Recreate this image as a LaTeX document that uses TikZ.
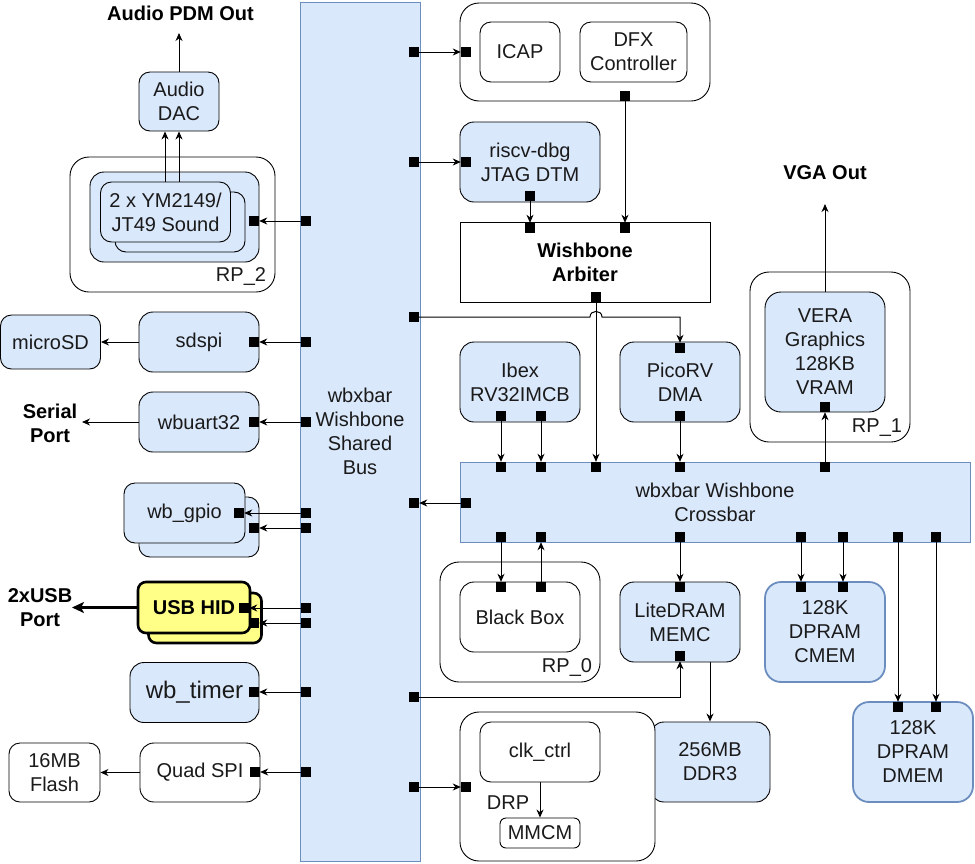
\documentclass[tikz,border=0pt]{standalone}
\usepackage{fontspec}
\setmainfont{Liberation Sans}
\usetikzlibrary{arrows.meta,calc}
\definecolor{bfill}{HTML}{DAE8FC}
\definecolor{bline}{HTML}{6C8EBF}
\definecolor{yfill}{HTML}{FFFF88}
\definecolor{txt}{HTML}{1A1A1A}
\begin{document}
\begin{tikzpicture}[x=1pt,y=-1pt,
  font=\fontsize{20}{24}\selectfont,
  base/.style={draw=black, line width=0.9pt, rounded corners=11pt, align=center, text=txt, inner sep=0pt},
  wbox/.style={base, fill=white},
  bbox/.style={base, fill=bfill},
  mbox/.style={base, fill=bfill, draw=bline, line width=1.8pt, rounded corners=16pt},
  ybox/.style={base, fill=yfill, line width=2.6pt, rounded corners=8pt, text=black, font=\fontsize{20}{24}\selectfont\bfseries},
  cont/.style={draw=black, line width=0.9pt, rounded corners=19pt, fill=white, inner sep=0pt},
  port/.style={fill=black, draw=none, minimum size=10pt, inner sep=0pt},
  arr/.style={-{Stealth[length=8pt,width=7pt,inset=2.5pt]}, line width=1pt},
  lbl/.style={font=\fontsize{20}{24}\selectfont\bfseries, align=center, text=black},
  rp/.style={text=txt, inner sep=0pt}]
\useasboundingbox (0,0) rectangle (975,863);

% shared bus
\node[draw=bline, fill=bfill, line width=0.9pt, minimum width=120pt, minimum height=859pt, align=center, text=txt, inner sep=0pt] (bus) at (360,431.5) {wbxbar\\Wishbone\\Shared\\Bus};

% ---------- right side ----------
\node[cont, minimum width=250pt, minimum height=98pt] (dfxc) at (585,52) {};
\node[wbox, minimum width=80pt, minimum height=60pt] (icap) at (520,52) {ICAP};
\node[wbox, minimum width=107pt, minimum height=60pt] (dfx) at (633.5,52) {DFX\\Controller};

\node[bbox, minimum width=140pt, minimum height=80pt, rounded corners=14pt] (rv) at (530,162) {riscv-dbg\\JTAG DTM};
\node[draw=black, line width=0.9pt, fill=white, minimum width=250pt, minimum height=80pt, align=center, inner sep=0pt, font=\fontsize{20}{24}\selectfont\bfseries] (arb) at (585,262) {Wishbone\\Arbiter};

\node[bbox, minimum width=120pt, minimum height=80pt, rounded corners=14pt] (ibex) at (520,382) {Ibex\\RV32IMCB};
\node[bbox, minimum width=120pt, minimum height=80pt, rounded corners=14pt] (pico) at (680,382) {PicoRV\\DMA};

\node[cont, minimum width=160pt, minimum height=170pt] (rp1) at (830,357) {};
\node[bbox, minimum width=120pt, minimum height=120pt, rounded corners=16pt] (vera) at (825,352) {VERA\\Graphics\\128KB\\VRAM};
\node[rp] (rp1l) at (877,428) {RP\_1};

\node[draw=bline, fill=bfill, line width=0.9pt, minimum width=510pt, minimum height=80pt, align=center, text=txt, inner sep=0pt] (xbar) at (715,502) {wbxbar Wishbone\\Crossbar};

\node[cont, minimum width=160pt, minimum height=120pt] (rp0) at (520,622) {};
\node[wbox, minimum width=120pt, minimum height=70pt, rounded corners=14pt] (bb) at (520,617) {Black Box};
\node[rp] (rp0l) at (567,667) {RP\_0};

\node[bbox, minimum width=120pt, minimum height=80pt, rounded corners=14pt] (ld) at (680,622) {LiteDRAM\\MEMC};
\node[bbox, minimum width=120pt, minimum height=80pt, rounded corners=14pt] (ddr) at (710,762) {256MB\\DDR3};
\node[mbox, minimum width=120pt, minimum height=100pt] (cmem) at (825,632) {128K\\DPRAM\\CMEM};
\node[mbox, minimum width=120pt, minimum height=100pt] (dmem) at (913,752) {128K\\DPRAM\\DMEM};

\node[cont, minimum width=195pt, minimum height=149pt] (clkc) at (557.5,786.5) {};
\node[wbox, minimum width=120pt, minimum height=60pt] (clk) at (540,752) {clk\_ctrl};
\node[wbox, minimum width=80pt, minimum height=30pt, rounded corners=6pt] (mmcm) at (540,833) {MMCM};
\node[rp] (drp) at (508,803) {DRP};

% ---------- left side ----------
\node[bbox, minimum width=80pt, minimum height=59pt] (dac) at (179,101.5) {Audio\\DAC};
\node[cont, minimum width=205pt, minimum height=135pt] (rp2) at (172.5,224.5) {};
\node[bbox, minimum width=169pt, minimum height=90pt, rounded corners=14pt] (sndc) at (174.5,217) {};
\node[bbox, minimum width=130pt, minimum height=60pt] (snd2) at (180,222) {};
\node[bbox, minimum width=130pt, minimum height=60pt] (snd1) at (165.5,212) {2 x YM2149/\\JT49 Sound};
\node[rp] (rp2l) at (241,276) {RP\_2};

\node[bbox, minimum width=100pt, minimum height=54pt] (sd) at (50.5,342) {microSD};
\node[bbox, minimum width=120pt, minimum height=60pt, rounded corners=14pt] (sdspi) at (199,342) {sdspi};
\node[bbox, minimum width=120pt, minimum height=60pt, rounded corners=14pt] (uart) at (199,422) {wbuart32};
\node[bbox, minimum width=120pt, minimum height=60pt] (gpio2) at (199,527) {};
\node[bbox, minimum width=121pt, minimum height=60pt] (gpio1) at (184.5,513) {wb\_gpio};
\node[ybox, minimum width=113pt, minimum height=50pt] (usb2) at (205,618) {};
\node[ybox, minimum width=112pt, minimum height=51pt] (usb1) at (194,607.5) {USB HID};
\node[bbox, minimum width=129pt, minimum height=60pt, rounded corners=14pt, font=\fontsize{24}{28}\selectfont] (timer) at (194.5,692.5) {wb\_timer};
\node[wbox, minimum width=120pt, minimum height=59pt, rounded corners=14pt] (qspi) at (200,772.5) {Quad SPI};
\node[wbox, minimum width=91pt, minimum height=59pt] (flash) at (54.5,772.5) {16MB\\Flash};

% ---------- labels ----------
\node[lbl] (pdm) at (180.5,13) {Audio PDM Out};
\node[lbl] (vga) at (825,173) {VGA Out};
\node[lbl] (serial) at (50,423) {Serial\\Port};
\node[lbl] (usbp) at (40,608) {2xUSB\\Port};
\coordinate (pdmend) at (179,33);
\coordinate (vgaend) at (825,204);
\coordinate (serend) at (82,422);
\coordinate (usbend) at (72,607.5);

% ---------- ports ----------
\node[port] (bicap) at (414,52) {};
\node[port] (brv) at (414,162) {};
\node[port] (bpico) at (414,317) {};
\node[port] (bxb) at (414,503) {};
\node[port] (bmem) at (414,697) {};
\node[port] (bclk) at (414,787) {};
\node[port] (bsnd) at (306,221) {};
\node[port] (bsd) at (306,342) {};
\node[port] (buart) at (306,422) {};
\node[port] (bgp1) at (306,513) {};
\node[port] (bgp2) at (306,528) {};
\node[port] (bus1) at (306,608) {};
\node[port] (bus2) at (306,623) {};
\node[port] (btim) at (306,692) {};
\node[port] (bqspi) at (306,772) {};
\node[port] (picap) at (466,52) {};
\node[port] (pdfx) at (625,96) {};
\node[port] (prvl) at (466,162) {};
\node[port] (prvb) at (530,196) {};
\node[port] (parb1) at (530,228) {};
\node[port] (parb2) at (625,228) {};
\node[port] (parbb) at (596,297) {};
\node[port] (pib1) at (501,416) {};
\node[port] (pib2) at (541,416) {};
\node[port] (ppit) at (680,348) {};
\node[port] (ppib) at (680,416) {};
\node[port] (pvera) at (825,407) {};
\node[port] (xt1) at (501,467) {};
\node[port] (xt2) at (541,467) {};
\node[port] (xt3) at (596,467) {};
\node[port] (xt4) at (680,467) {};
\node[port] (xt5) at (825,467) {};
\node[port] (xl) at (466,503) {};
\node[port] (xb1) at (501,537) {};
\node[port] (xb2) at (541,537) {};
\node[port] (xb3) at (680,537) {};
\node[port] (xb4) at (801,537) {};
\node[port] (xb5) at (843,537) {};
\node[port] (xb6) at (898,537) {};
\node[port] (xb7) at (936,537) {};
\node[port] (pbb1) at (501,587) {};
\node[port] (pbb2) at (541,587) {};
\node[port] (pldt) at (680,587) {};
\node[port] (pldb) at (680,656) {};
\node[port] (pcm1) at (801,587) {};
\node[port] (pcm2) at (843,587) {};
\node[port] (pdm1) at (898,707) {};
\node[port] (pdm2) at (936,707) {};
\node[port] (pclk) at (466,787) {};
\node[port] (psnd) at (254,221) {};
\node[port] (psd) at (254,342) {};
\node[port] (puart) at (254,422) {};
\node[port] (pgp1) at (239,513) {};
\node[port] (pgp2) at (254,528) {};
\node[port] (pus1) at (244,608) {};
\node[port] (pus2) at (254,623) {};
\node[port] (ptim) at (254,692) {};
\node[port] (pqspi) at (255,772) {};

% ---------- connectors ----------
\draw[arr] (bicap) -- (picap);
\draw[arr] (brv) -- (prvl);
\draw[arr] (prvb) -- (parb1);
\draw[arr] (pdfx) -- (parb2);
\draw[arr] (parbb) -- (xt3);
\draw[arr] (bpico.east) -- (590,317) .. controls (590,309.5) and (602,309.5) .. (602,317) -- (ppit.north |- bpico) -- (ppit.north);
\draw[arr] (pib1) -- (xt1);
\draw[arr] (pib2) -- (xt2);
\draw[arr] (ppib) -- (xt4);
\draw[arr] (xt5) -- (pvera);
\draw[arr] (vera.north) -- (vgaend);
\draw[arr] (xl) -- (bxb);
\draw[arr] (xb1) -- (pbb1);
\draw[arr] (pbb2) -- (xb2);
\draw[arr] (xb3) -- (pldt);
\draw[arr] (xb4) -- (pcm1);
\draw[arr] (xb5) -- (pcm2);
\draw[arr] (xb6) -- (pdm1);
\draw[arr] (xb7) -- (pdm2);
\draw[arr] (bmem.east) -| (pldb.south);
\draw[arr] (ddr.north |- ld.south) -- (ddr.north);
\draw[arr] (bclk) -- (pclk);
\draw[arr] (clk.south) -- (mmcm.north);

\draw[arr] (dac.north) -- (pdmend);
\draw[arr] (dac.south |- snd1.north) -- (dac.south);
\draw[arr] ([xshift=-14pt]dac.south |- snd1.north) -- ([xshift=-14pt]dac.south);
\draw[arr] (bsnd) -- (psnd);
\draw[arr] (bsd) -- (psd);
\draw[arr] (sdspi.west) -- (sd.east);
\draw[arr] (buart) -- (puart);
\draw[arr] (uart.west) -- (serend);
\draw[arr] (bgp1) -- (pgp1);
\draw[arr] (bgp2) -- (pgp2);
\draw[arr] (bus1) -- (pus1);
\draw[arr] (bus2) -- (pus2);
\draw[-{Stealth[length=12pt,width=11pt,inset=3pt]}, line width=2.4pt] (usb1.west) -- (usbend);
\draw[arr] (btim) -- (ptim);
\draw[arr] (bqspi) -- (pqspi);
\draw[arr] (qspi.west) -- (flash.east);
\end{tikzpicture}
\end{document}
